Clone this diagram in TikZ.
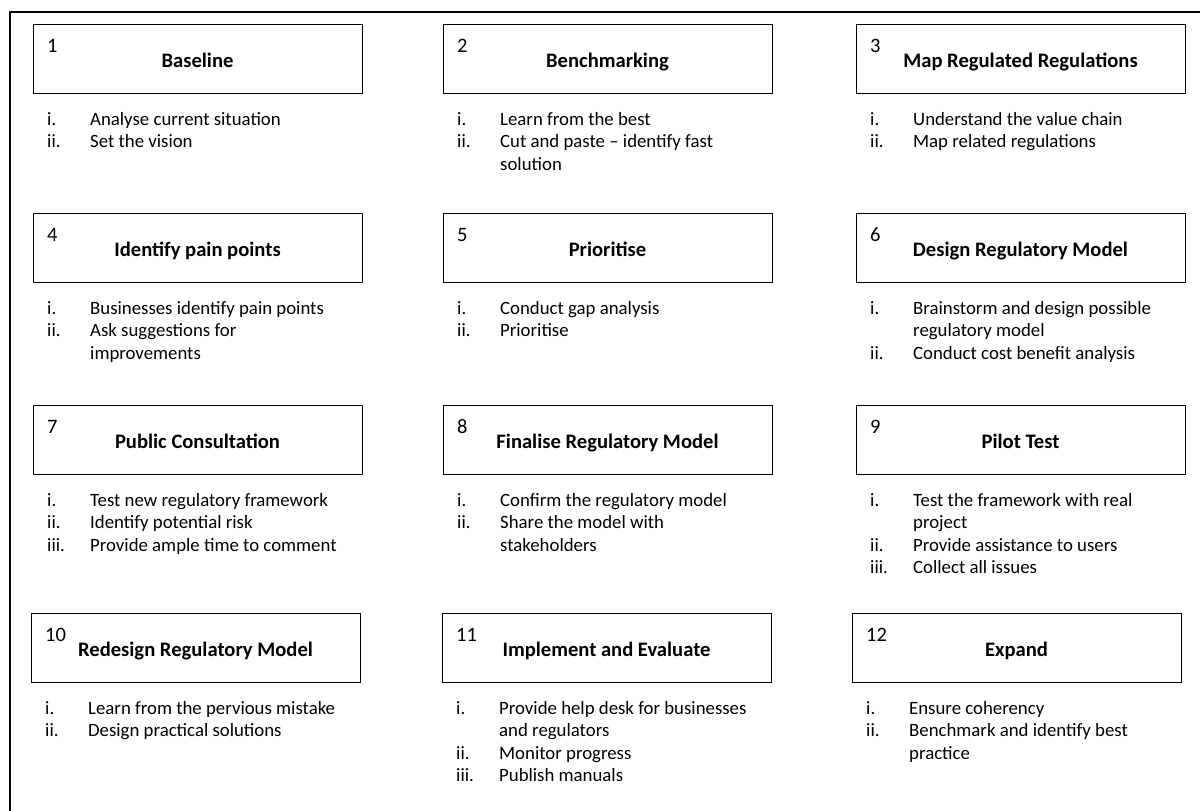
\documentclass[tikz,border=0pt]{standalone}
\usepackage{fontspec}
\setmainfont{Carlito}
\newcommand\rn[1]{\makebox[43pt][l]{#1}}
\newcommand\cont{\hspace*{43pt}}
\newcommand\mystage[6]{%
  \node[stepbox] (#1) at (#2,#3) {};
  \node[numlabel] (#1n) at ({#2+14},{#3+28.5}) {#4};
  \node[titlelabel] (#1t) at ({#2+164.5},{#3+43}) {#5};
  \node[itemlist] (#1i) at ({#2+14},{#3+69+32-15}) {\rule{0pt}{15pt}#6};
}
\begin{document}
\begin{tikzpicture}[x=1pt,y=-1pt,
  stepbox/.style={draw, line width=1.4pt, minimum width=329pt, minimum height=69pt, inner sep=0pt, anchor=north west},
  numlabel/.style={anchor=base west, inner sep=0pt, font=\fontsize{20.5}{24}\selectfont},
  titlelabel/.style={anchor=base, inner sep=0pt, font=\fontsize{20.6}{24}\selectfont\bfseries},
  itemlist/.style={anchor=north west, inner sep=0pt, align=left, font=\fontsize{18.8}{22.5}\selectfont},
  frameline/.style={line width=2.2pt}]
\useasboundingbox (0,0) rectangle (1200,811);
\draw[frameline] (10,811) -- (10,12) -- (1200,12);

\mystage{b1}{33}{24}{1}{Baseline}{\rn{i.}Analyse current situation\\\rn{ii.}Set the vision}
\mystage{b2}{443}{24}{2}{Benchmarking}{\rn{i.}Learn from the best\\\rn{ii.}Cut and paste – identify fast\\\cont solution}
\mystage{b3}{856}{24}{3}{Map Regulated Regulations}{\rn{i.}Understand the value chain\\\rn{ii.}Map related regulations}

\mystage{b4}{33}{213}{4}{Identify pain points}{\rn{i.}Businesses identify pain points\\\rn{ii.}Ask suggestions for\\\cont improvements}
\mystage{b5}{443}{213}{5}{Prioritise}{\rn{i.}Conduct gap analysis\\\rn{ii.}Prioritise}
\mystage{b6}{856}{213}{6}{Design Regulatory Model}{\rn{i.}Brainstorm and design possible\\\cont regulatory model\\\rn{ii.}Conduct cost benefit analysis}

\mystage{b7}{33}{405}{7}{Public Consultation}{\rn{i.}Test new regulatory framework\\\rn{ii.}Identify potential risk\\\rn{iii.}Provide ample time to comment}
\mystage{b8}{443}{405}{8}{Finalise Regulatory Model}{\rn{i.}Confirm the regulatory model\\\rn{ii.}Share the model with\\\cont stakeholders}
\mystage{b9}{856}{405}{9}{Pilot Test}{\rn{i.}Test the framework with real\\\cont project\\\rn{ii.}Provide assistance to users\\\rn{iii.}Collect all issues}

\mystage{b10}{31}{613}{10}{Redesign Regulatory Model}{\rn{i.}Learn from the pervious mistake\\\rn{ii.}Design practical solutions}
\mystage{b11}{442}{613}{11}{Implement and Evaluate}{\rn{i.}Provide help desk for businesses\\\cont and regulators\\\rn{ii.}Monitor progress\\\rn{iii.}Publish manuals}
\mystage{b12}{852}{613}{12}{Expand}{\rn{i.}Ensure coherency\\\rn{ii.}Benchmark and identify best\\\cont practice}
\end{tikzpicture}
\end{document}
